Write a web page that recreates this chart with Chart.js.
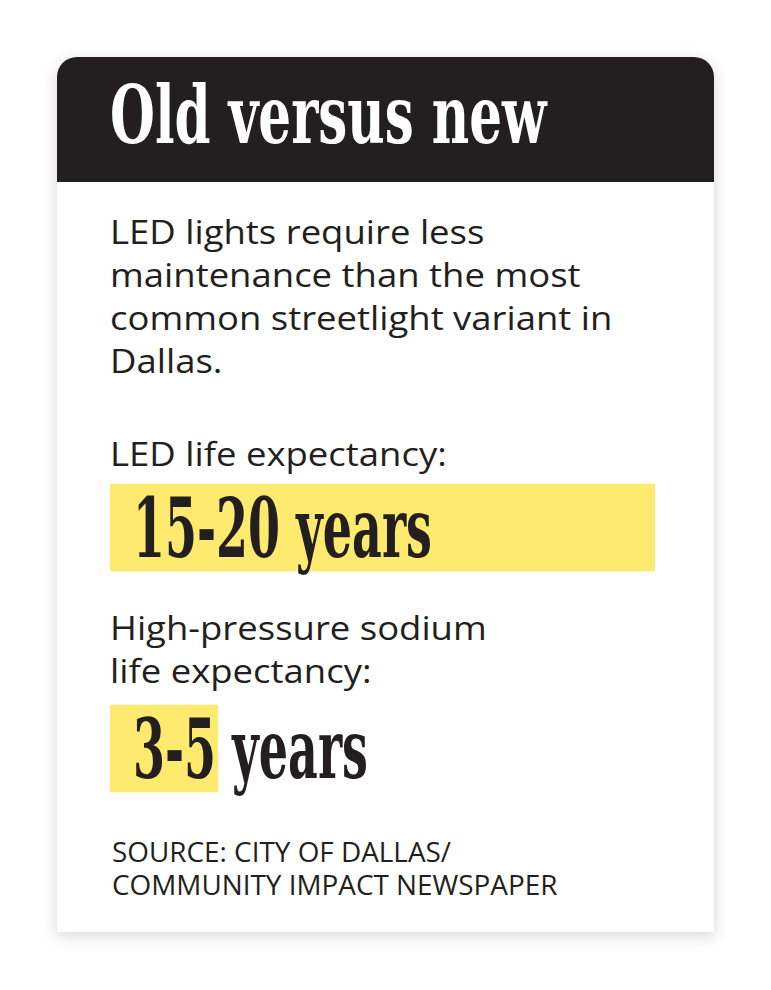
<!DOCTYPE html>
<html>
<head>
<meta charset="utf-8">
<script src="https://cdn.jsdelivr.net/npm/chart.js@4/dist/chart.umd.min.js"></script>
<style>
  html, body { margin: 0; padding: 0; background: #fff; }
  body { width: 771px; height: 990px; position: relative; overflow: hidden; }
  .card {
    position: absolute; left: 57px; top: 57px; width: 657px; height: 875px;
    background: #fff; border-radius: 20px 20px 0 0;
    box-shadow: 0 4px 16px rgba(0, 0, 0, 0.16);
  }
  .header {
    position: absolute; left: 0; top: 0; width: 657px; height: 125px;
    background: #231f20; border-radius: 20px 20px 0 0;
  }
  .title {
    position: absolute; left: 53px; top: 18px; color: #fff; white-space: nowrap;
    font-family: "DejaVu Serif Condensed", "DejaVu Serif", serif; font-weight: bold;
    font-size: 80px; line-height: 1; transform-origin: 0 0;
  }
  .txt {
    position: absolute; left: 53px; color: #231f20; white-space: nowrap;
    font-family: "Open Sans", "Noto Sans", sans-serif; font-size: 33px; line-height: 43px;
    transform-origin: 0 0;
  }
  .src {
    position: absolute; left: 55px; top: 778px; color: #231f20; white-space: nowrap;
    font-family: "Open Sans", "Noto Sans", sans-serif; font-size: 27px; line-height: 33px;
    transform-origin: 0 0;
  }
  #chartBox { position: absolute; left: 110px; top: 417px; width: 545px; height: 442px; }
</style>
</head>
<body>
<div class="card">
  <div class="header"><div class="title" id="title">Old versus new</div></div>
  <div class="txt" id="intro" style="top:153px">LED lights require less<br>maintenance than the most<br>common streetlight variant in<br>Dallas.</div>
  <div class="txt" id="ledLabel" style="top:375px">LED life expectancy:</div>
  <div class="txt" id="hpsLabel" style="top:549px">High-pressure sodium<br>life expectancy:</div>
  <div class="src" id="source">SOURCE: CITY OF DALLAS/<br>COMMUNITY IMPACT NEWSPAPER</div>
</div>
<div id="chartBox"><canvas id="chart"></canvas></div>
<script>
const categories = ['LED', 'High-pressure sodium'];
const lifeLow = [15, 3];
const lifeHigh = [20, 5];
const unit = 'years';

// squeeze text blocks horizontally so they fill the same width as the original
function fitWidth(id, width) {
  const el = document.getElementById(id);
  el.style.transform = `scaleX(${width / el.offsetWidth})`;
  return width / el.offsetWidth;
}
fitWidth('title', 436);
const bodyScale = fitWidth('intro', 503);
['ledLabel', 'hpsLabel'].forEach((id) => {
  document.getElementById(id).style.transform = `scaleX(${bodyScale})`;
});
fitWidth('source', 445);

const labelFont = 'bold 82px "DejaVu Serif Condensed", "DejaVu Serif", serif';

const rangeLabels = {
  id: 'rangeLabels',
  afterDatasetsDraw(chart) {
    const ctx = chart.ctx;
    const bars = chart.getDatasetMeta(0).data;
    ctx.save();
    ctx.font = labelFont;
    ctx.fillStyle = '#231f20';
    ctx.textBaseline = 'alphabetic';
    const first = `${lifeLow[0]}-${lifeHigh[0]} ${unit}`;
    const squeeze = 299 / ctx.measureText(first).width;
    bars.forEach((bar, i) => {
      const text = `${lifeLow[i]}-${lifeHigh[i]} ${unit}`;
      ctx.save();
      ctx.translate(chart.chartArea.left + 23, bar.y + 29);
      ctx.scale(squeeze, 1);
      ctx.fillText(text, 0, 0);
      ctx.restore();
    });
    ctx.restore();
  },
};

new Chart(document.getElementById('chart').getContext('2d'), {
  type: 'bar',
  data: {
    labels: categories,
    datasets: [
      {
        label: 'Life expectancy (years)',
        data: lifeHigh,
        backgroundColor: '#fdea6f',
        borderWidth: 0,
        barThickness: 87,
      },
    ],
  },
  options: {
    indexAxis: 'y',
    responsive: true,
    maintainAspectRatio: false,
    animation: false,
    events: [],
    layout: { padding: 0 },
    plugins: {
      legend: { display: false },
      tooltip: { enabled: false },
    },
    scales: {
      x: { display: false, min: 1.3, max: 20 },
      y: { display: false },
    },
  },
  plugins: [rangeLabels],
});
</script>
</body>
</html>
